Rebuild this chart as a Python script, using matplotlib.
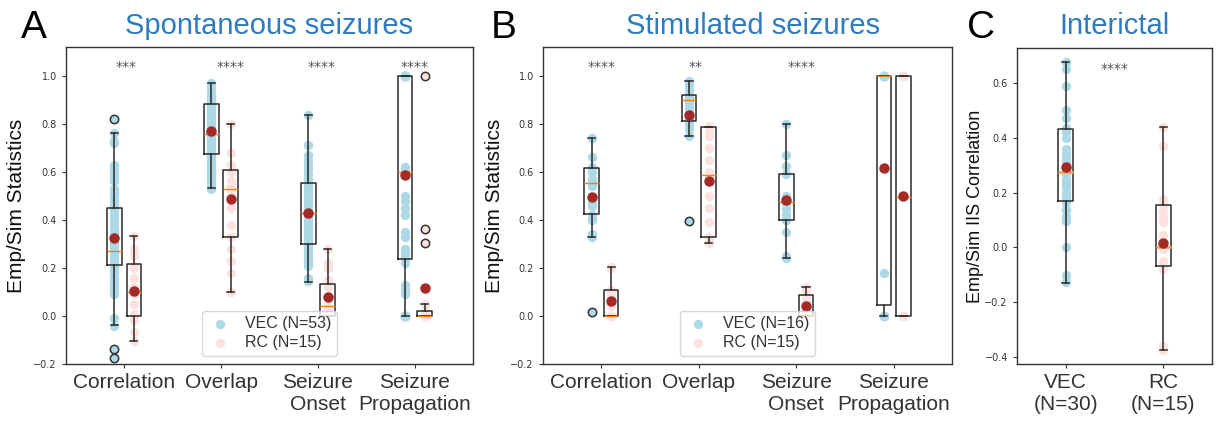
import matplotlib
matplotlib.use("Agg")
import matplotlib.pyplot as plt

# ---------------- data ----------------
metrics = ["Correlation", "Overlap", "Seizure\nOnset", "Seizure\nPropagation"]

# Panel A: spontaneous seizures -- raw points
spont_vec_corr = [0.82, 0.76, 0.73, 0.72, 0.63, 0.62, 0.60, 0.59, 0.58, 0.56, 0.53, 0.51, 0.50,
                  0.48, 0.46, 0.45, 0.44, 0.42, 0.40, 0.39, 0.37, 0.36, 0.35, 0.34, 0.33, 0.31,
                  0.30, 0.29, 0.28, 0.27, 0.27, 0.26, 0.25, 0.24, 0.23, 0.22, 0.21, 0.21, 0.20,
                  0.19, 0.18, 0.16, 0.15, 0.14, 0.13, 0.12, 0.10, 0.10, 0.09, -0.01, -0.04,
                  -0.14, -0.175]
spont_rc_corr = [0.335, 0.28, 0.25, 0.21, 0.20, 0.16, 0.12, 0.10, 0.09, 0.05, 0.01, 0.0, -0.015,
                 -0.065, -0.105]
spont_vec_overlap = [0.97, 0.96, 0.95, 0.94, 0.92, 0.91, 0.90, 0.89, 0.88, 0.87, 0.86, 0.86, 0.85,
                     0.84, 0.83, 0.83, 0.82, 0.81, 0.80, 0.80, 0.79, 0.78, 0.78, 0.77, 0.76, 0.76,
                     0.75, 0.75, 0.74, 0.73, 0.72, 0.72, 0.71, 0.70, 0.70, 0.69, 0.68, 0.68, 0.67,
                     0.66, 0.65, 0.64, 0.63, 0.62, 0.61, 0.60, 0.59, 0.58, 0.57, 0.56, 0.55, 0.54,
                     0.53]
spont_rc_overlap = [0.80, 0.68, 0.63, 0.60, 0.56, 0.54, 0.53, 0.52, 0.45, 0.38, 0.33, 0.28, 0.23,
                    0.18, 0.10]
spont_vec_onset = [0.835, 0.71, 0.67, 0.65, 0.63, 0.61, 0.59, 0.57, 0.55, 0.54, 0.53, 0.52, 0.50,
                   0.50, 0.49, 0.48, 0.47, 0.46, 0.45, 0.45, 0.44, 0.43, 0.43, 0.42, 0.41, 0.40,
                   0.40, 0.39, 0.38, 0.38, 0.37, 0.36, 0.35, 0.35, 0.34, 0.33, 0.33, 0.32, 0.31,
                   0.30, 0.30, 0.29, 0.28, 0.27, 0.27, 0.26, 0.25, 0.24, 0.23, 0.22, 0.21, 0.16,
                   0.145]
spont_rc_onset = [0.278, 0.22, 0.20, 0.15, 0.12, 0.08, 0.05, 0.04, 0.04, 0.03, 0.02, 0.0, 0.0,
                  0.0, 0.0]
spont_vec_prop = [1.0] * 20 + [0.62, 0.61, 0.60, 0.59, 0.50, 0.48, 0.45, 0.42, 0.35, 0.33, 0.28,
                               0.26, 0.24, 0.22, 0.13, 0.11, 0.09] + [0.0] * 16
spont_rc_prop = [1.0, 0.36, 0.305, 0.05, 0.02] + [0.0] * 10

# Panel A box statistics: q1, median, q3, whisker low, whisker high, mean, fliers
spont_vec_q1 = [0.2125, 0.674, 0.299, 0.236]
spont_vec_med = [0.271, 0.757, 0.430, 0.599]
spont_vec_q3 = [0.449, 0.882, 0.553, 1.0]
spont_vec_wlo = [-0.0375, 0.532, 0.143, 0.0]
spont_vec_whi = [0.761, 0.970, 0.835, 1.0]
spont_vec_mean = [0.324, 0.770, 0.428, 0.588]
spont_vec_fliers = [[0.82, -0.139, -0.176], [], [], []]
spont_rc_q1 = [0.0, 0.330, 0.0, 0.0]
spont_rc_med = [0.100, 0.528, 0.042, 0.0]
spont_rc_q3 = [0.215, 0.608, 0.132, 0.021]
spont_rc_wlo = [-0.103, 0.099, 0.0, 0.0]
spont_rc_whi = [0.335, 0.800, 0.278, 0.05]
spont_rc_mean = [0.105, 0.486, 0.080, 0.115]
spont_rc_fliers = [[], [], [], [1.0, 0.3625, 0.305]]

# Panel B: stimulated seizures -- raw points
stim_vec_corr = [0.743, 0.66, 0.62, 0.60, 0.57, 0.56, 0.55, 0.54, 0.47, 0.46, 0.42, 0.41, 0.40,
                 0.34, 0.33, 0.018]
stim_rc_corr = [0.204, 0.20, 0.11, 0.10, 0.10, 0.08, 0.07, 0.05, 0.04, 0.0, 0.0, 0.0, 0.0, 0.0, 0.0]
stim_vec_overlap = [0.979, 0.96, 0.94, 0.92, 0.91, 0.90, 0.90, 0.89, 0.88, 0.86, 0.84, 0.82, 0.80,
                    0.78, 0.75, 0.395]
stim_rc_overlap = [0.79, 0.78, 0.75, 0.70, 0.65, 0.60, 0.59, 0.58, 0.50, 0.45, 0.39, 0.33, 0.32,
                   0.31, 0.305]
stim_vec_onset = [0.80, 0.67, 0.625, 0.59, 0.50, 0.49, 0.48, 0.47, 0.47, 0.445, 0.42, 0.40, 0.40,
                  0.35, 0.25, 0.24]
stim_rc_onset = [0.122, 0.11, 0.09, 0.08, 0.06, 0.05, 0.04, 0.02, 0.0, 0.0, 0.0, 0.0, 0.0, 0.0, 0.0]
stim_vec_prop = [1.0] * 10 + [0.18] + [0.0] * 5
stim_rc_prop = [1.0] * 7 + [0.5] + [0.0] * 7

stim_vec_q1 = [0.426, 0.8125, 0.400, 0.046]
stim_vec_med = [0.555, 0.899, 0.474, 1.0]
stim_vec_q3 = [0.618, 0.920, 0.593, 1.0]
stim_vec_wlo = [0.330, 0.750, 0.240, 0.0]
stim_vec_whi = [0.743, 0.979, 0.800, 1.0]
stim_vec_mean = [0.496, 0.8375, 0.483, 0.618]
stim_vec_fliers = [[0.018], [0.395], [], []]
stim_rc_q1 = [0.0, 0.328, 0.0, 0.0]
stim_rc_med = [0.0, 0.5875, 0.0, 0.497]
stim_rc_q3 = [0.107, 0.7875, 0.089, 1.0]
stim_rc_wlo = [0.0, 0.305, 0.0, 0.0]
stim_rc_whi = [0.204, 0.7875, 0.122, 1.0]
stim_rc_mean = [0.064, 0.5625, 0.043, 0.50]
stim_rc_fliers = [[], [], [], []]

# Panel C: interictal
inter_labels = ["VEC\n(N=30)", "RC\n(N=15)"]
inter_vec = [0.675, 0.65, 0.59, 0.50, 0.47, 0.435, 0.42, 0.40, 0.36, 0.34, 0.33, 0.31, 0.29,
             0.28, 0.27, 0.25, 0.24, 0.22, 0.20, 0.19, 0.175, 0.165, 0.14, 0.135, 0.11, 0.095,
             0.0, -0.10, -0.125, 0.23]
inter_rc = [0.44, 0.37, 0.175, 0.153, 0.128, 0.092, 0.044, 0.02, 0.0, -0.004, -0.05, -0.08,
            -0.36, -0.373, 0.11]
inter_q1 = [0.170, -0.068]
inter_med = [0.274, 0.0]
inter_q3 = [0.432, 0.153]
inter_wlo = [-0.128, -0.373]
inter_whi = [0.676, 0.440]
inter_mean = [0.293, 0.0145]

# significance stars
spont_stars = ["***", "****", "****", "****"]
spont_star_x = [1.02, 2.10, 3.04, 4.0]
stim_stars = ["****", "**", "****"]
stim_star_x = [1.0, 1.965, 3.06]
inter_star = "****"

# ---------------- style ----------------
VEC_COL = "#add8e6"
RC_COL = "#fbe1e0"
MEAN_COL = "#a32a26"
BOX_COL = "#2a2a2a"
TITLE_COL = "#2f7bbf"
SANS = ["Liberation Sans", "DejaVu Sans"]

W, H = 1220, 421
fig = plt.figure(figsize=(W / 100, H / 100), dpi=100)
axA = fig.add_axes([66 / W, 57 / H, 407 / W, 317 / H])
axB = fig.add_axes([543 / W, 57 / H, 409 / W, 317 / H])
axC = fig.add_axes([1017 / W, 57 / H, 195 / W, 316 / H])


def stats_list(q1, med, q3, wlo, whi, mean, fliers):
    return [dict(q1=a, med=b, q3=c, whislo=d, whishi=e, mean=f, fliers=g)
            for a, b, c, d, e, f, g in zip(q1, med, q3, wlo, whi, mean, fliers)]


def draw_group(ax, stats, pos, face, median_col="#ff7f0e", median_lw=1.0, width=0.15):
    ax.bxp(stats, positions=pos, widths=width, showmeans=True, manage_ticks=False,
           boxprops=dict(color=BOX_COL, linewidth=1.1),
           whiskerprops=dict(color=BOX_COL, linewidth=1.1),
           capprops=dict(color=BOX_COL, linewidth=1.1),
           medianprops=dict(color=median_col, linewidth=median_lw),
           flierprops=dict(marker="o", markersize=6, markerfacecolor=face,
                           markeredgecolor="#333333", markeredgewidth=1.1),
           meanprops=dict(marker="o", markersize=6.5, markerfacecolor=MEAN_COL,
                          markeredgecolor=MEAN_COL),
           zorder=3)


def style_axis(ax):
    for s in ax.spines.values():
        s.set_color("#333333")
        s.set_linewidth(1.0)
    ax.tick_params(axis="y", labelsize=7, colors="#333333", length=3)
    ax.tick_params(axis="x", length=3, colors="#333333")
    for lab in ax.get_xticklabels():
        lab.set_fontfamily(SANS)
        lab.set_fontsize(15)
        lab.set_color("#333333")


def seizure_panel(ax, vec_groups, rc_groups, vec_stats, rc_stats, n_vec, n_rc, stars, star_x):
    x = list(range(1, len(metrics) + 1))
    for i, (v, r) in enumerate(zip(vec_groups, rc_groups)):
        ax.scatter([x[i] - 0.1] * len(v), v, s=45, color=VEC_COL, linewidths=0, zorder=1,
                   label=f"VEC (N={n_vec})" if i == 0 else None)
        ax.scatter([x[i] + 0.1] * len(r), r, s=45, color=RC_COL, linewidths=0, zorder=1,
                   label=f"RC (N={n_rc})" if i == 0 else None)
    draw_group(ax, vec_stats, [p - 0.1 for p in x], VEC_COL)
    draw_group(ax, rc_stats, [p + 0.1 for p in x], RC_COL)
    for sx, st in zip(star_x, stars):
        ax.text(sx, 1.022, st, ha="center", va="baseline", fontsize=10, color="#555555")
    ax.set_xlim(0.4, 4.6)
    ax.set_ylim(-0.2, 1.12)
    ax.set_yticks([-0.2, 0.0, 0.2, 0.4, 0.6, 0.8, 1.0])
    ax.set_xticks(x)
    ax.set_xticklabels(metrics)
    style_axis(ax)
    leg = ax.legend(loc="lower center", prop=dict(family=SANS, size=11.5), handlelength=1.6,
                    labelspacing=0.25, borderpad=0.35, scatterpoints=1, framealpha=0.8)
    for t in leg.get_texts():
        t.set_color("#333333")


seizure_panel(axA,
              [spont_vec_corr, spont_vec_overlap, spont_vec_onset, spont_vec_prop],
              [spont_rc_corr, spont_rc_overlap, spont_rc_onset, spont_rc_prop],
              stats_list(spont_vec_q1, spont_vec_med, spont_vec_q3, spont_vec_wlo,
                         spont_vec_whi, spont_vec_mean, spont_vec_fliers),
              stats_list(spont_rc_q1, spont_rc_med, spont_rc_q3, spont_rc_wlo,
                         spont_rc_whi, spont_rc_mean, spont_rc_fliers),
              53, 15, spont_stars, spont_star_x)

seizure_panel(axB,
              [stim_vec_corr, stim_vec_overlap, stim_vec_onset, stim_vec_prop],
              [stim_rc_corr, stim_rc_overlap, stim_rc_onset, stim_rc_prop],
              stats_list(stim_vec_q1, stim_vec_med, stim_vec_q3, stim_vec_wlo,
                         stim_vec_whi, stim_vec_mean, stim_vec_fliers),
              stats_list(stim_rc_q1, stim_rc_med, stim_rc_q3, stim_rc_wlo,
                         stim_rc_whi, stim_rc_mean, stim_rc_fliers),
              16, 15, stim_stars, stim_star_x)

# Panel C
axC.scatter([1] * len(inter_vec), inter_vec, s=45, color=VEC_COL, linewidths=0, zorder=1)
axC.scatter([2] * len(inter_rc), inter_rc, s=45, color=RC_COL, linewidths=0, zorder=1)
inter_stats = stats_list(inter_q1, inter_med, inter_q3, inter_wlo, inter_whi, inter_mean,
                         [[], []])
draw_group(axC, inter_stats, [1, 2], VEC_COL, median_col="#f5a35e", median_lw=2.0)
axC.text(1.5, 0.637, inter_star, ha="center", va="baseline", fontsize=10, color="#555555")
axC.set_xlim(0.5, 2.5)
axC.set_ylim(-0.425, 0.727)
axC.set_yticks([-0.4, -0.2, 0.0, 0.2, 0.4, 0.6])
axC.set_xticks([1, 2])
axC.set_xticklabels(inter_labels)
style_axis(axC)

# y labels
fig.text(17 / W, 1 - 205.5 / H, "Emp/Sim Statistics", rotation=90, ha="center", va="center",
         fontsize=15, family=SANS, color="#111111")
fig.text(495 / W, 1 - 205.5 / H, "Emp/Sim Statistics", rotation=90, ha="center", va="center",
         fontsize=15, family=SANS, color="#111111")
fig.text(975 / W, 1 - 206 / H, "Emp/Sim IIS Correlation", rotation=90, ha="center", va="center",
         fontsize=13, family=SANS, color="#111111")

# titles and panel letters
fig.text(269.5 / W, 1 - 33.5 / H, "Spontaneous seizures", ha="center", va="baseline",
         fontsize=21, family=SANS, color=TITLE_COL)
fig.text(753 / W, 1 - 33.5 / H, "Stimulated seizures", ha="center", va="baseline",
         fontsize=21, family=SANS, color=TITLE_COL)
fig.text(1114.5 / W, 1 - 33.5 / H, "Interictal", ha="center", va="baseline",
         fontsize=21, family=SANS, color=TITLE_COL)
for lx, letter in [(21, "A"), (491, "B"), (967, "C")]:
    fig.text(lx / W, 1 - 38 / H, letter, ha="left", va="baseline", fontsize=28, family=SANS,
             color="black")

fig.savefig("out.png", dpi=100)
